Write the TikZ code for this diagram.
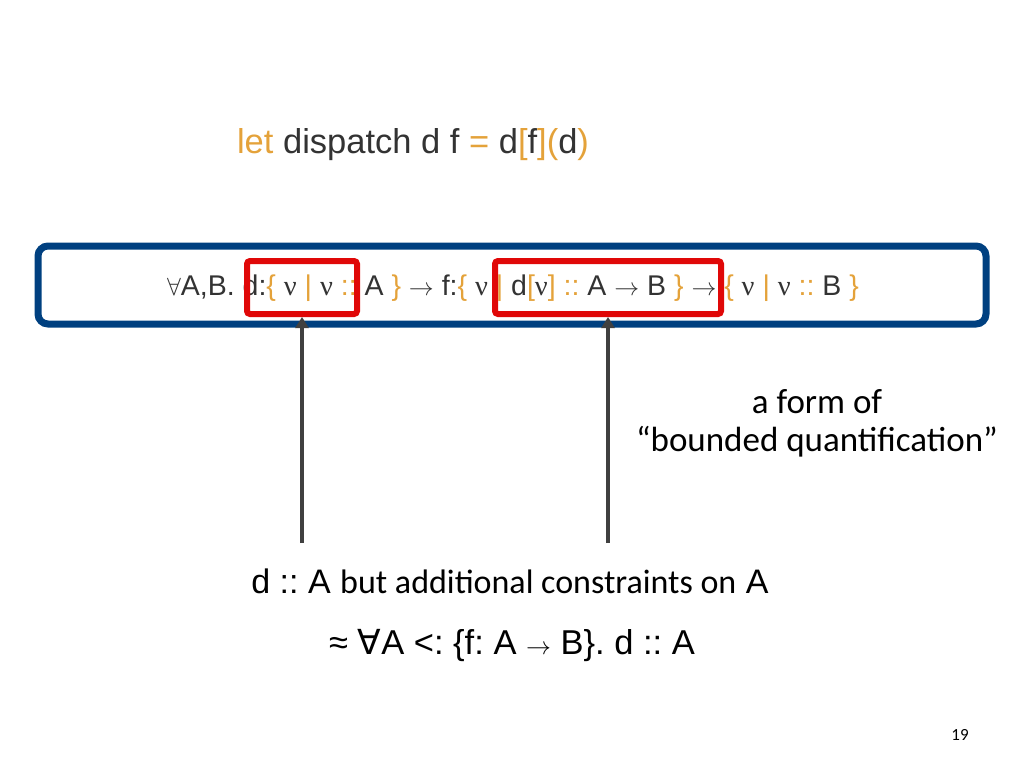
\documentclass[tikz,border=0pt]{standalone}
\usepackage{fontspec}
\setmainfont{Liberation Sans}
\newfontfamily\calib{Carlito}
\newfontfamily\serf{Liberation Serif}
\newfontfamily\djv{DejaVu Sans}
\usetikzlibrary{arrows.meta}
\definecolor{ora}{RGB}{228,162,58}
\definecolor{txt}{RGB}{51,51,51}
\definecolor{navy}{RGB}{0,64,128}
\definecolor{redc}{RGB}{224,8,8}
\definecolor{arr}{RGB}{64,64,64}
\newcommand\nuu{{\serf ν}}
\newcommand\fa{{\djv ∀}}
\newcommand\oo[1]{\textcolor{ora}{#1}}
\newcommand\ar{$\rightarrow$}
\frenchspacing
\tikzset{
  bluebox/.style={draw=navy, line width=7pt, rounded corners=10pt, inner sep=0pt},
  redbox/.style={draw=redc, line width=6pt, rounded corners=3pt, inner sep=0pt},
  pointer/.style={draw=arr, line width=3.5pt, -{Triangle[length=11pt,width=13pt]}},
  txtlabel/.style={text=txt, inner sep=0pt, anchor=center}
}
\begin{document}
\begin{tikzpicture}[x=1pt,y=-1pt]
\useasboundingbox (0,0) rectangle (1024,768);
\node[txtlabel, font=\fontsize{34.5}{40}\selectfont] (title) at (413,145)
  {\oo{let} dispatch d f \oo{=} d\oo{[}f\oo{](}d\oo{)}};
\node[bluebox, minimum width=948pt, minimum height=78pt] (blue) at (512,285) {};
\node[txtlabel, font=\fontsize{28.5}{32}\selectfont] (formula) at (513,288)
  {$\forall$A,B. d:\oo{\{} \nuu{} \oo{|} \nuu{} \oo{::} A \oo{\}} \ar{} f:\oo{\{} \nuu{} \oo{|} d\oo{[}\nuu\oo{]} \oo{::} A \ar{} B \oo{\}} \ar{} \oo{\{} \nuu{} \oo{|} \nuu{} \oo{::} B \oo{\}}};
\node[redbox, minimum width=110pt, minimum height=53pt] (r1) at (302,287.5) {};
\node[redbox, minimum width=226pt, minimum height=53pt] (r2) at (608,287.5) {};
\coordinate (s1) at (302,543);
\coordinate (s2) at (608,543);
\draw[pointer] (s1) -- (r1.south);
\draw[pointer] (s2) -- (r2.south);
\node[txtlabel, font=\calib\fontsize{35}{38}\selectfont, align=center, text=black] (note) at (817,423)
  {a form of\\“bounded quantification”};
\node[txtlabel, text=black] (line1) at (510,581)
  {\fontsize{34}{40}\selectfont d :: A {\calib\fontsize{34}{40}\selectfont but additional constraints on} A};
\node[txtlabel, text=black, font=\fontsize{34.5}{40}\selectfont] (line2) at (512,645)
  {≈ \fa A <: \{f: A \ar{} B\}. d :: A};
\node[txtlabel, text=black, font=\calib\fontsize{17}{20}\selectfont] (page) at (960,735) {19};
\end{tikzpicture}
\end{document}
